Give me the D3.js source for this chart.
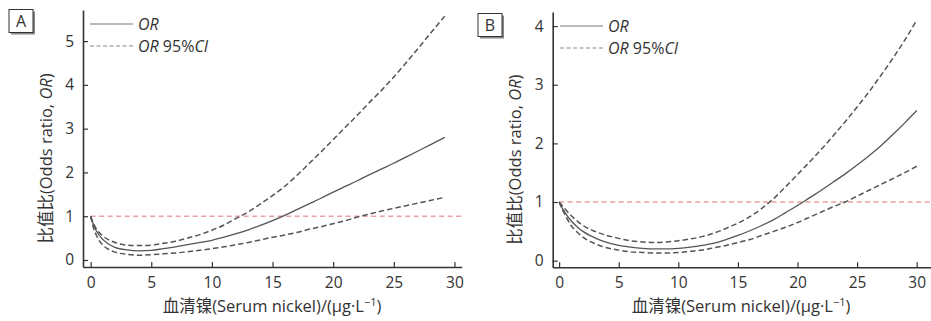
<!DOCTYPE html>
<html><head><meta charset="utf-8">
<script src="https://cdn.jsdelivr.net/npm/d3@7"></script>
<style>
html,body{margin:0;padding:0;background:#fff;}
svg{display:block;}
text{font-family:"Open Sans","Noto Sans CJK SC",sans-serif;fill:#333;}
</style></head>
<body>
<svg id="chart" width="931" height="321"></svg>
<script>
// ---- Data ----
const xA = [0, 0.25, 0.5, 1, 1.5, 2, 3, 4, 5, 6, 7, 8, 9, 10, 11, 12, 13, 14, 15, 16, 17, 18, 19, 20, 21, 22, 23, 24, 25, 26, 27, 28, 29.2];
const orA = [1, 0.8, 0.65, 0.47, 0.36, 0.29, 0.23, 0.21, 0.22, 0.26, 0.3, 0.35, 0.4, 0.45, 0.52, 0.6, 0.69, 0.79, 0.9, 1.02, 1.15, 1.28, 1.41, 1.55, 1.68, 1.81, 1.95, 2.08, 2.21, 2.35, 2.49, 2.63, 2.8];
const upA = [1, 0.82, 0.7, 0.55, 0.46, 0.4, 0.34, 0.33, 0.34, 0.38, 0.43, 0.5, 0.58, 0.68, 0.8, 0.95, 1.1, 1.28, 1.47, 1.68, 1.93, 2.2, 2.47, 2.75, 3.03, 3.31, 3.6, 3.88, 4.18, 4.5, 4.83, 5.17, 5.57];
const loA = [1, 0.72, 0.55, 0.34, 0.24, 0.18, 0.13, 0.11, 0.12, 0.14, 0.16, 0.19, 0.22, 0.26, 0.3, 0.35, 0.4, 0.46, 0.52, 0.57, 0.63, 0.7, 0.76, 0.83, 0.9, 0.98, 1.05, 1.12, 1.18, 1.24, 1.3, 1.36, 1.43];

const xB = [0, 0.25, 0.5, 1, 1.5, 2, 3, 4, 5, 6, 7, 8, 9, 10, 11, 12, 13, 14, 15, 16, 17, 18, 19, 20, 21, 22, 23, 24, 25, 26, 27, 28, 29, 30];
const orB = [1, 0.9, 0.82, 0.68, 0.58, 0.5, 0.39, 0.31, 0.26, 0.23, 0.21, 0.2, 0.2, 0.21, 0.23, 0.26, 0.3, 0.36, 0.43, 0.51, 0.6, 0.7, 0.82, 0.94, 1.07, 1.2, 1.34, 1.48, 1.63, 1.79, 1.96, 2.15, 2.35, 2.56];
const upB = [1, 0.94, 0.88, 0.77, 0.68, 0.6, 0.5, 0.43, 0.38, 0.34, 0.32, 0.31, 0.32, 0.34, 0.37, 0.41, 0.47, 0.55, 0.64, 0.75, 0.89, 1.06, 1.26, 1.47, 1.68, 1.9, 2.13, 2.37, 2.62, 2.88, 3.16, 3.45, 3.76, 4.1];
const loB = [1, 0.88, 0.78, 0.6, 0.49, 0.4, 0.29, 0.22, 0.18, 0.15, 0.14, 0.13, 0.13, 0.14, 0.16, 0.18, 0.22, 0.26, 0.31, 0.36, 0.43, 0.5, 0.57, 0.65, 0.74, 0.83, 0.92, 1.0, 1.1, 1.2, 1.3, 1.4, 1.5, 1.61];

const xTicks = [0, 5, 10, 15, 20, 25, 30];
const yTicksA = [0, 1, 2, 3, 4, 5];
const yTicksB = [0, 1, 2, 3, 4];
const refValue = 1;

// ---- Layout ----
const svg = d3.select("#chart");

const panels = [
  {label:"A", xs:xA, or:orA, up:upA, lo:loA, yTicks:yTicksA,
   left:83, right:461.7, top:10, bottom:267, xDom:[-0.63,30.6], yDom:[-0.16,5.71],
   box:[9,9.5], titleX:52, legX:90, legY:24, xTitleC:272},
  {label:"B", xs:xB, or:orB, up:upB, lo:loB, yTicks:yTicksB,
   left:552.7, right:931, top:12, bottom:267.3, xDom:[-0.54,31.2], yDom:[-0.113,4.24],
   box:[478,13.5], titleX:521, legX:560, legY:26, xTitleC:741}
];

panels.forEach(p => {
  const x = d3.scaleLinear().domain(p.xDom).range([p.left, p.right]);
  const y = d3.scaleLinear().domain(p.yDom).range([p.bottom, p.top]);
  const g = svg.append("g");

  // axes
  const xAxis = d3.axisBottom(x).tickValues(xTicks).tickFormat(d3.format("d"))
    .tickSize(-5).tickPadding(10).tickSizeOuter(0);
  const gx = g.append("g").attr("transform", `translate(0,${p.bottom})`).call(xAxis);
  const yAxis = d3.axisLeft(y).tickValues(p.yTicks).tickFormat(d3.format("d"))
    .tickSize(-5).tickPadding(9).tickSizeOuter(0);
  const gy = g.append("g").attr("transform", `translate(${p.left},0)`).call(yAxis);
  [gx, gy].forEach(a => {
    a.select(".domain").attr("stroke", "#333").attr("stroke-width", 1.6);
    a.selectAll(".tick line").attr("stroke", "#333").attr("stroke-width", 1.2);
    a.selectAll(".tick text").attr("font-size", 15.5).attr("fill", "#333")
      .attr("font-family", "'Open Sans', sans-serif");
  });

  // reference line
  g.append("line")
    .attr("x1", x(0)).attr("x2", p.right)
    .attr("y1", y(refValue)).attr("y2", y(refValue))
    .attr("stroke", "#e6a3a3").attr("stroke-width", 1.6)
    .attr("stroke-dasharray", "5,3.5");

  const line = d3.line().x(d => x(d[0])).y(d => y(d[1])).curve(d3.curveMonotoneX);
  const pts = arr => p.xs.map((v, i) => [v, arr[i]]);

  g.append("path").attr("d", line(pts(p.up))).attr("fill", "none")
    .attr("stroke", "#555").attr("stroke-width", 1.5).attr("stroke-dasharray", "5.5,3");
  g.append("path").attr("d", line(pts(p.lo))).attr("fill", "none")
    .attr("stroke", "#555").attr("stroke-width", 1.5).attr("stroke-dasharray", "5.5,3");
  g.append("path").attr("d", line(pts(p.or))).attr("fill", "none")
    .attr("stroke", "#555").attr("stroke-width", 1.3);

  // legend
  g.append("line").attr("x1", p.legX).attr("x2", p.legX + 43)
    .attr("y1", p.legY).attr("y2", p.legY).attr("stroke", "#777").attr("stroke-width", 1.2);
  g.append("text").attr("x", p.legX + 48).attr("y", p.legY + 5.5).attr("font-size", 16)
    .attr("font-style", "italic").text("OR");
  g.append("line").attr("x1", p.legX).attr("x2", p.legX + 43)
    .attr("y1", p.legY + 22).attr("y2", p.legY + 22).attr("stroke", "#888")
    .attr("stroke-width", 1.2).attr("stroke-dasharray", "4,2.5");
  const t2 = g.append("text").attr("x", p.legX + 48).attr("y", p.legY + 27.5).attr("font-size", 16);
  t2.append("tspan").attr("font-style", "italic").text("OR");
  t2.append("tspan").text(" 95%");
  t2.append("tspan").attr("font-style", "italic").text("CI");

  // panel label box
  const [bx, by] = p.box;
  g.append("rect").attr("x", bx + 2).attr("y", by + 2).attr("width", 24).attr("height", 23)
    .attr("fill", "#888");
  g.append("rect").attr("x", bx).attr("y", by).attr("width", 24).attr("height", 23)
    .attr("fill", "#fff").attr("stroke", "#333").attr("stroke-width", 1);
  g.append("text").attr("x", bx + 12).attr("y", by + 17.5).attr("text-anchor", "middle")
    .attr("font-size", 16).text(p.label);

  // axis titles
  g.append("text").attr("x", p.xTitleC)
    .attr("y", 312).attr("text-anchor", "middle").attr("font-size", 16.5)
    .html("血清镍(Serum nickel)/(μg·L<tspan font-size='11' dy='-6'>−1</tspan><tspan dy='6'>)</tspan>");

  const yt = g.append("text").attr("transform", `translate(${p.titleX},${(p.top + p.bottom) / 2 + 20}) rotate(-90)`)
    .attr("text-anchor", "middle").attr("font-size", 16.5);
  yt.append("tspan").text("比值比(Odds ratio, ");
  yt.append("tspan").attr("font-style", "italic").text("OR");
  yt.append("tspan").text(")");
});
</script>
</body></html>
